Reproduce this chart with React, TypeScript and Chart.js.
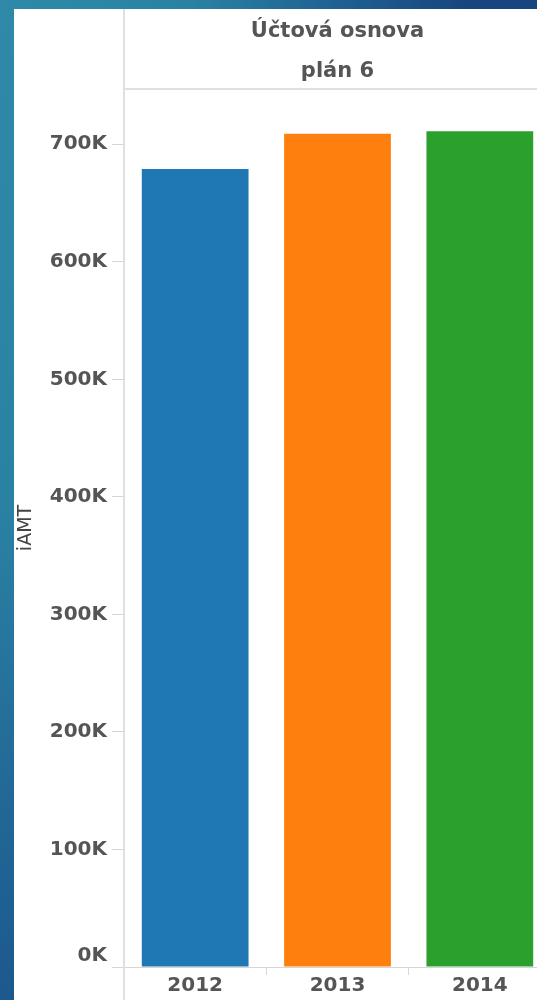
import React, { useEffect, useRef } from 'react';
import { Chart, registerables } from 'chart.js';

Chart.register(...registerables);

const years = ['2012', '2013', '2014'];
const amounts = [679000, 709000, 711000];
const barColors = ['#1f77b4', '#ff7f0e', '#2ca02c'];
const yTickValues = [0, 100000, 200000, 300000, 400000, 500000, 600000, 700000];
const yMax = 747000;
const headerLines = ['Účtová osnova', 'plán 6'];
const yTitle = 'iAMT';

const FONT = "'DejaVu Sans', 'Liberation Sans', sans-serif";
const LINE = '#d6d6d6';

const framePlugin = {
  id: 'frameLines',
  afterDraw(chart: any) {
    const { ctx, chartArea, height, width } = chart;
    ctx.save();
    ctx.strokeStyle = '#e0e0e0';
    ctx.lineWidth = 2;
    ctx.beginPath();
    ctx.moveTo(chartArea.left, 0);
    ctx.lineTo(chartArea.left, height);
    ctx.moveTo(chartArea.left, chartArea.top);
    ctx.lineTo(width, chartArea.top);
    ctx.stroke();
    ctx.restore();
  },
};

export default function App() {
  const canvasRef = useRef<HTMLCanvasElement | null>(null);

  useEffect(() => {
    const canvas = canvasRef.current;
    if (!canvas) return;
    const chart = new Chart(canvas, {
      type: 'bar',
      data: {
        labels: years,
        datasets: [
          {
            data: amounts,
            backgroundColor: barColors,
            borderWidth: 0,
            barPercentage: 0.75,
            categoryPercentage: 1,
          },
        ],
      },
      options: {
        animation: false,
        responsive: false,
        layout: { padding: 0 },
        plugins: {
          legend: { display: false },
          tooltip: { enabled: false },
          title: {
            display: true,
            text: headerLines,
            fullSize: false,
            color: '#555',
            padding: { top: 3, bottom: -3 },
            font: { family: FONT, size: 21, weight: 'bold', lineHeight: 40 / 21 },
          },
        },
        scales: {
          x: {
            afterFit: (s: any) => {
              s.height = 33;
            },
            grid: { drawOnChartArea: false, tickLength: 8, color: LINE, offset: true },
            border: { display: true, color: LINE },
            ticks: {
              padding: 1,
              color: '#555',
              font: { family: FONT, size: 20, weight: 'bold', lineHeight: 1 },
            },
          },
          y: {
            min: 0,
            max: yMax,
            afterBuildTicks: (s: any) => {
              s.ticks = yTickValues.map((v) => ({ value: v }));
            },
            afterFit: (s: any) => {
              s.width = 110;
            },
            grid: { drawOnChartArea: false, tickLength: 12, color: LINE },
            border: { display: false },
            ticks: {
              padding: 5,
              color: '#555',
              font: { family: FONT, size: 20, weight: 'bold', lineHeight: 1.1 },
              callback: (v: any) => (Number(v) === 0 ? ['0K', ''] : `${Number(v) / 1000}K`),
            },
            title: {
              display: true,
              text: yTitle,
              color: '#444',
              padding: 1,
              font: { family: FONT, size: 19 },
            },
          },
        },
      },
      plugins: [framePlugin],
    });
    return () => chart.destroy();
  }, []);

  return (
    <div
      style={{
        position: 'fixed',
        left: 0,
        top: 0,
        width: 537,
        height: 1000,
        overflow: 'hidden',
        background:
          'radial-gradient(ellipse 470px 1250px at 0 0, #2e8aa8 0%, #2a82a3 40%, #1f6092 72%, #17457f 100%)',
      }}
    >
      <div
        style={{
          position: 'absolute',
          left: 14,
          top: 9,
          width: 537,
          height: 991,
          background: '#ffffff',
        }}
      >
        <canvas ref={canvasRef} width={537} height={991} style={{ display: 'block' }} />
      </div>
    </div>
  );
}
